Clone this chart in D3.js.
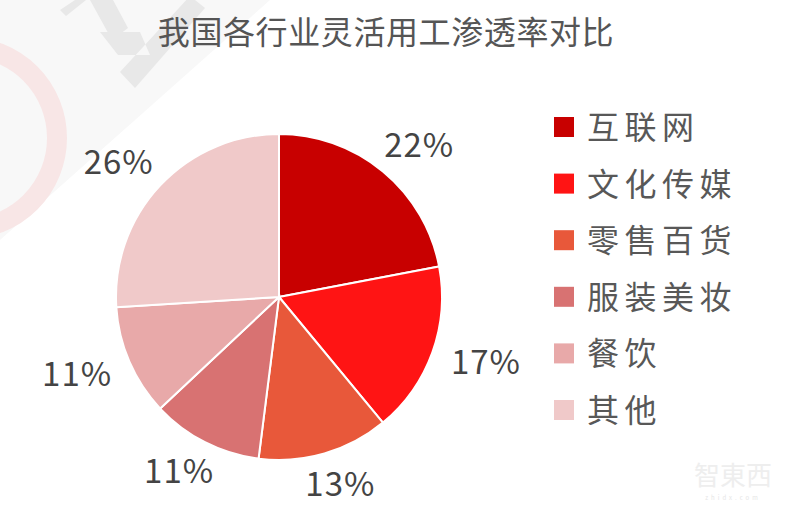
<!DOCTYPE html>
<html><head><meta charset="utf-8">
<script src="https://cdn.jsdelivr.net/npm/d3@7"></script>
<style>body{margin:0;background:#fff}svg{display:block}</style>
</head><body>
<svg id="c" width="800" height="509"></svg>
<script>
const title = "我国各行业灵活用工渗透率对比";
const categories = ["互联网","文化传媒","零售百货","服装美妆","餐饮","其他"];
const values = [22,17,13,11,11,26];
const colors = ["#c80000","#ff1414","#e8583a","#d87272","#e8a9a9","#f0c9c9"];

const svg = d3.select("#c");
const font = "'Noto Sans CJK SC','Noto Sans',sans-serif";

// faint background watermark
const wm = svg.append("g");
wm.append("path").attr("d","M0,0 L270,0 L0,240 Z").attr("fill","#f8f8f8");
wm.append("circle").attr("cx",-34).attr("cy",138).attr("r",91).attr("fill","none")
  .attr("stroke","#f8e6e6").attr("stroke-width",20);
wm.append("path").attr("d","M60,10 L75,0 L86,0 L66,16 Z M90,0 L113,0 L128,28 L112,40 Z M120,72 L135,88 L205,8 L190,-4 Z M100,32 L140,32 L150,55 L118,55 Z")
  .attr("fill","#e8e8e8");

svg.append("text").attr("x",386).attr("y",44).attr("text-anchor","middle")
  .attr("font-family",font).attr("font-size",32).attr("letter-spacing",0.6)
  .attr("fill","#555").text(title);

const cx = 279, cy = 297, r = 163;
const pie = d3.pie().sort(null).value(d=>d)(values);
const arc = d3.arc().innerRadius(0).outerRadius(r);
const g = svg.append("g").attr("transform",`translate(${cx},${cy})`);
g.selectAll("path").data(pie).join("path")
  .attr("d",arc).attr("fill",(d,i)=>colors[i])
  .attr("stroke","#fff").attr("stroke-width",2);

const R = 183, hw = 37, hh = 13;
g.selectAll("text.lbl").data(pie).join("text").attr("class","lbl")
  .each(function(d){
    const a = (d.startAngle+d.endAngle)/2;
    const s = Math.sin(a), c = -Math.cos(a);
    const x = s*R + s*hw, y = c*R + c*hh;
    d3.select(this).attr("x",x).attr("y",y+11);
  })
  .attr("text-anchor","middle").attr("font-family",font).attr("font-size",33)
  .attr("letter-spacing",1).attr("fill","#444").text(d=>d.data+"%");

const lg = svg.append("g");
categories.forEach((c,i)=>{
  const y = 127 + i*56.6;
  lg.append("rect").attr("x",554).attr("y",y-10).attr("width",20).attr("height",20).attr("fill",colors[i]);
  lg.append("text").attr("x",587).attr("y",y+12).attr("font-family",font).attr("font-size",32)
    .attr("letter-spacing",5.5).attr("fill","#585858").text(c);
});

// faint logo
svg.append("text").attr("x",733).attr("y",485).attr("text-anchor","middle")
  .attr("font-family",font).attr("font-size",26).attr("fill","#eeeeee").text("智東西");
svg.append("text").attr("x",733).attr("y",500).attr("text-anchor","middle")
  .attr("font-family",font).attr("font-size",6).attr("letter-spacing",3).attr("fill","#e6e6e6").text("zhidx.com");
</script>
</body></html>
